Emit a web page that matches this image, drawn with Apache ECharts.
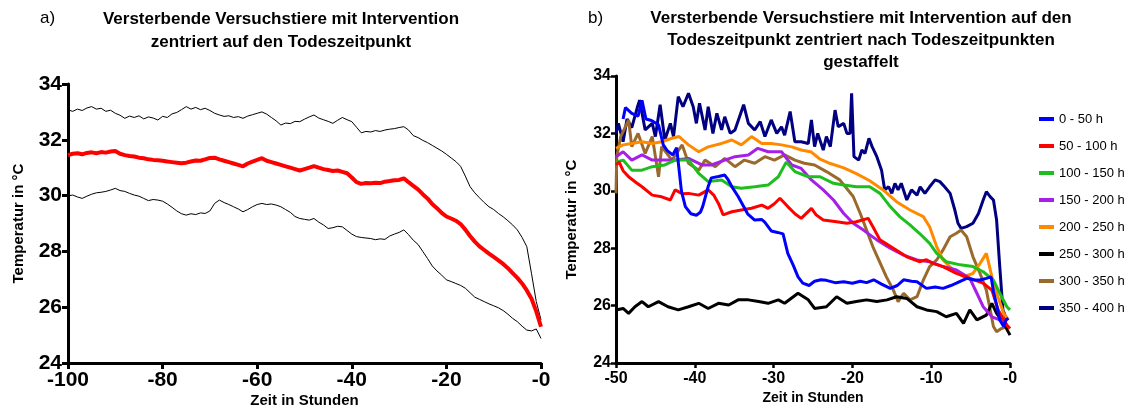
<!DOCTYPE html>
<html><head><meta charset="utf-8">
<script src="https://cdn.jsdelivr.net/npm/echarts@6/dist/echarts.min.js"></script>
<style>html,body{margin:0;padding:0;background:#fff}#c{width:1131px;height:407px}</style>
</head><body><div id="c"></div>
<script>
// ---------- Chart a) ----------
const hoursA = [-100,-99,-98,-97,-96,-95,-94,-93,-92,-91,-90,-89,-88,-87,-86,-85,-84,-83,-82,-81,-80,-79,-78,-77,-76,-75,-74,-73,-72,-71,-70,-69,-68,-67,-66,-65,-64,-63,-62,-61,-60,-59,-58,-57,-56,-55,-54,-53,-52,-51,-50,-49,-48,-47,-46,-45,-44,-43,-42,-41,-40,-39,-38,-37,-36,-35,-34,-33,-32,-31,-30,-29,-28,-27,-26,-25,-24,-23,-22,-21,-20,-19,-18,-17,-16,-15,-14,-13,-12,-11,-10,-9,-8,-7,-6,-5,-4,-3,-2,-1,0];
const upperA = [33.07,33.02,33.10,33.05,33.14,33.19,33.10,33.13,33.02,33.06,32.95,32.88,32.77,32.85,32.80,32.86,32.75,32.82,32.78,32.71,32.84,32.80,32.93,32.98,33.08,33.19,33.10,33.16,33.08,33.13,33.05,32.95,32.89,32.84,32.86,32.80,32.83,32.77,32.85,32.90,32.95,33.00,32.92,32.80,32.68,32.53,32.60,32.58,32.66,32.65,32.74,32.82,32.89,32.78,32.72,32.66,32.59,32.70,32.80,32.72,32.65,32.45,32.25,32.30,32.28,32.33,32.30,32.35,32.38,32.40,32.44,32.47,32.35,32.15,32.08,31.98,31.90,31.80,31.70,31.60,31.48,31.35,31.22,31.05,30.70,30.32,30.10,29.92,29.75,29.60,29.50,29.36,29.24,29.10,28.95,28.77,28.50,28.17,27.20,26.20,25.55];
const meanA = [31.45,31.50,31.52,31.48,31.53,31.55,31.52,31.56,31.54,31.58,31.60,31.50,31.45,31.42,31.40,31.36,31.34,31.30,31.28,31.27,31.25,31.22,31.20,31.18,31.16,31.18,31.22,31.26,31.25,31.30,31.35,31.36,31.30,31.25,31.20,31.15,31.10,31.05,31.15,31.22,31.28,31.34,31.25,31.20,31.15,31.10,31.05,31.00,30.95,30.90,30.95,31.00,31.06,31.00,30.95,30.92,30.88,30.90,30.85,30.80,30.65,30.48,30.42,30.45,30.44,30.46,30.45,30.50,30.52,30.55,30.56,30.62,30.48,30.35,30.22,30.05,29.90,29.70,29.55,29.38,29.25,29.18,29.10,28.98,28.78,28.55,28.35,28.18,28.05,27.92,27.80,27.68,27.55,27.40,27.22,27.05,26.85,26.60,26.30,25.85,25.30];
const lowerA = [29.99,30.02,29.95,29.90,29.98,30.05,30.10,30.12,30.15,30.20,30.26,30.18,30.15,30.08,30.02,29.98,29.90,29.82,29.86,29.84,29.80,29.70,29.58,29.45,29.35,29.30,29.35,29.32,29.38,29.36,29.45,29.72,29.84,29.75,29.68,29.60,29.52,29.42,29.50,29.60,29.68,29.72,29.68,29.70,29.66,29.60,29.50,29.40,29.25,29.18,29.15,29.12,29.18,29.05,28.95,28.82,28.85,28.90,28.88,28.75,28.62,28.53,28.50,28.48,28.46,28.42,28.45,28.43,28.55,28.62,28.68,28.77,28.60,28.40,28.25,28.00,27.75,27.48,27.30,27.15,26.98,26.92,26.85,26.78,26.68,26.52,26.36,26.28,26.20,26.12,26.05,25.98,25.88,25.75,25.60,25.48,25.32,25.18,25.15,25.22,24.88];
const xTicksA = {'-100':'-100','-80':'-80','-60':'-60','-40':'-40','-20':'-20','0':'-0'};
const xTicksB = {'-50':'-50','-40':'-40','-30':'-30','-20':'-20','-10':'-10','0':'-0'};

// ---------- Chart b) : [hour, temperature] ----------
const names = ['0 - 50 h','50 - 100 h','100 - 150 h','150 - 200 h','200 - 250 h','250 - 300 h','300 - 350 h','350 - 400 h'];
const colors = ['#0000ff','#ff0000','#1ebe1e','#a61fe6','#ff8a00','#000000','#9a6a2c','#000080'];
const g0_50 = [[-49.1,32.5],[-48.8,32.9],[-48,32.7],[-47.2,32.6],[-46.7,33.15],[-46.2,32.5],[-45.5,32.45],[-44.6,32.3],[-44,31.6],[-43.5,31.4],[-42.8,31.25],[-42.3,31.5],[-41.7,30.0],[-41.2,29.45],[-40.5,29.2],[-39.8,29.15],[-39.3,29.25],[-39,29.45],[-38.3,30.15],[-37.9,30.45],[-37,30.5],[-36.2,30.55],[-35.8,30.4],[-35.2,30.1],[-34.5,29.8],[-33.8,29.45],[-33.3,29.2],[-32.4,28.98],[-31.5,29.0],[-31.1,28.9],[-30.3,28.6],[-29.5,28.55],[-28.8,28.5],[-28.2,27.82],[-27.5,27.4],[-26.9,27.0],[-26.3,26.78],[-25.5,26.7],[-24.8,26.85],[-24,26.9],[-23.3,26.88],[-22.2,26.8],[-21.1,26.83],[-20,26.78],[-19,26.85],[-18.2,26.8],[-17.3,26.9],[-16.3,26.75],[-15.2,26.6],[-14.3,26.7],[-13.5,26.9],[-12.5,26.85],[-11.8,26.83],[-10.6,26.6],[-9.5,26.65],[-8.5,26.6],[-7.5,26.7],[-6.8,26.78],[-5.5,26.95],[-4.6,26.9],[-3.8,26.89],[-3,26.95],[-2.4,27.0],[-2.1,26.5],[-1.6,25.9],[-1.3,25.5],[-0.8,25.27],[-0.5,25.5],[-0.2,25.56]];
const g50_100 = [[-50,30.9],[-49.6,31.0],[-49.1,30.7],[-48.4,30.49],[-47.5,30.3],[-46.7,30.14],[-45.4,29.85],[-44.2,29.79],[-43.1,29.68],[-42.5,30.03],[-41.6,29.9],[-40.8,29.91],[-39.5,29.85],[-38.3,30.03],[-37.6,29.85],[-37,29.56],[-36.4,29.16],[-35.3,29.27],[-34.1,29.33],[-32.8,29.39],[-31.5,29.5],[-30.7,29.39],[-29.9,29.55],[-29.2,29.74],[-28.2,29.45],[-27.3,29.2],[-26.5,29.04],[-25.2,29.39],[-24.6,29.16],[-23.7,28.98],[-22,28.92],[-20.7,28.87],[-19.5,28.92],[-18,29.04],[-17.4,28.75],[-16.5,28.29],[-14.8,28.0],[-13.1,27.7],[-11.5,27.53],[-10.6,27.6],[-9.8,27.47],[-8.5,27.36],[-6.8,27.12],[-5.1,26.95],[-3.4,26.78],[-2.3,26.54],[-1.5,25.85],[-0.4,25.32],[0,25.2]];
const g100_150 = [[-50,31.0],[-49.1,31.07],[-48,30.72],[-46.7,30.72],[-45.4,30.84],[-43.8,30.9],[-42.5,31.07],[-40.8,31.07],[-39.5,30.61],[-38.3,30.32],[-36.6,30.38],[-35.3,30.14],[-34.1,30.09],[-32.4,30.14],[-30.7,30.2],[-29.4,30.49],[-28.4,31.0],[-27.3,30.67],[-25.6,30.49],[-24.1,30.49],[-22.4,30.26],[-21.1,30.2],[-19.5,30.14],[-17.8,30.14],[-16.5,29.91],[-15.2,29.45],[-14,29.1],[-12.7,28.81],[-11.5,28.52],[-10.2,28.17],[-9.3,27.82],[-8.1,27.53],[-6.3,27.42],[-4.7,27.36],[-3.4,27.18],[-2.1,26.89],[-1.3,26.43],[-0.4,25.96],[0,25.85]];
const g150_200 = [[-50,31.19],[-49.1,31.36],[-48,31.07],[-46.7,31.25],[-45.4,31.07],[-44.2,31.07],[-42.5,31.07],[-40.8,31.13],[-39.1,30.9],[-37.9,30.9],[-36.2,31.07],[-34.9,31.19],[-33.2,31.25],[-32,31.48],[-30.7,31.36],[-29,31.36],[-27.7,30.9],[-26.5,30.78],[-25.2,30.38],[-23.7,30.03],[-22.4,29.68],[-21.1,29.21],[-19.9,28.87],[-18.6,28.63],[-16.9,28.29],[-15.2,28.0],[-13.5,27.76],[-11.8,27.59],[-10.2,27.53],[-8.5,27.36],[-6.8,27.24],[-5.1,26.95],[-4.2,26.43],[-3.4,25.96],[-2.3,25.61],[-1.3,25.5],[-0.4,25.32]];
const g200_250 = [[-50,31.48],[-49.1,31.6],[-48,31.65],[-46.7,31.71],[-45.4,31.65],[-44.2,31.71],[-42.9,31.83],[-42,31.89],[-40.8,31.6],[-39.5,31.36],[-38.3,31.53],[-36.6,31.65],[-35.3,31.77],[-34.1,31.6],[-32.8,31.89],[-31.5,31.65],[-30.3,31.65],[-29,31.6],[-27.7,31.53],[-26.5,31.42],[-25.2,31.35],[-24.1,31.1],[-22.8,30.95],[-21.1,30.8],[-19.5,30.6],[-17.8,30.35],[-16.1,30.03],[-14.4,29.62],[-12.7,29.33],[-11,29.1],[-10.2,28.75],[-9.3,28.05],[-8.5,27.59],[-7.2,27.24],[-5.9,27.01],[-4.7,27.12],[-3.8,27.47],[-3,27.82],[-2.3,27.01],[-1.7,26.43],[-0.8,25.73],[-0.2,25.5]];
const g250_300 = [[-50,25.85],[-49.1,25.9],[-48.4,25.73],[-47.6,25.96],[-46.7,26.14],[-45.9,25.96],[-44.6,26.14],[-43.4,25.96],[-42.1,25.85],[-40.8,25.96],[-39.5,26.08],[-38.3,25.9],[-37,26.08],[-35.7,26.02],[-34.5,26.2],[-33.2,26.2],[-31.9,26.14],[-30.7,26.08],[-29.4,26.2],[-28.6,26.08],[-26.9,26.43],[-25.6,26.2],[-24.8,25.9],[-23.3,25.96],[-22,26.31],[-20.7,26.08],[-19.5,26.14],[-18.2,26.2],[-16.9,26.14],[-15.6,26.2],[-14.4,26.31],[-13.1,26.25],[-11.8,25.96],[-10.6,25.85],[-9.3,25.79],[-8.1,25.61],[-6.8,25.73],[-5.9,25.38],[-5.1,25.85],[-4.2,25.5],[-3,25.67],[-2.3,26.08],[-1.7,25.73],[-0.8,25.38],[0,24.97]];
const g300_350 = [[-50,29.91],[-49.9,31.19],[-49.4,31.89],[-48.4,32.47],[-48,31.54],[-47.2,32.0],[-46.3,31.3],[-45.4,31.89],[-44.6,30.49],[-44.2,31.54],[-42.9,31.07],[-41.6,31.6],[-40.8,30.96],[-39.5,30.72],[-38.7,31.07],[-37.4,30.84],[-36.2,31.13],[-34.9,30.84],[-33.7,31.07],[-32.4,30.96],[-31.1,31.19],[-29.9,31.07],[-28.6,31.25],[-27.3,31.07],[-26.1,30.96],[-24.8,30.9],[-23.3,30.67],[-21.6,30.38],[-19.9,29.8],[-19,29.21],[-18.2,28.63],[-17.4,28.05],[-16.5,27.5],[-15.7,27.01],[-14.8,26.54],[-14.2,26.14],[-13.5,26.43],[-12.7,26.2],[-11.8,26.31],[-11,26.89],[-10.2,27.36],[-9.3,27.59],[-8.5,27.94],[-7.6,28.4],[-6.8,28.52],[-6.2,28.63],[-5.5,28.4],[-4.7,27.7],[-3.8,27.12],[-3,26.54],[-2.1,25.27],[-1.7,25.09],[-1.1,25.2],[-0.4,25.27]];
const g350_400 = [[-50,32.0],[-49.7,32.35],[-49.1,31.71],[-48.6,32.5],[-48,32.2],[-47.3,32.9],[-47,33.16],[-46.3,32.12],[-45.4,32.35],[-45,31.89],[-44.4,33.0],[-43.8,31.77],[-43.1,32.35],[-42.7,31.89],[-42.1,33.28],[-41.5,32.93],[-40.8,33.4],[-40.2,32.93],[-39.8,32.35],[-39.4,33.05],[-38.7,32.12],[-38.3,32.93],[-37.7,32.0],[-37.2,32.7],[-36.6,32.12],[-36.2,32.58],[-35.5,32.0],[-34.9,32.12],[-33.8,33.0],[-33.2,32.35],[-32.4,32.12],[-31.7,32.41],[-31.1,31.89],[-30.3,32.47],[-29.6,32.0],[-29,32.23],[-28.6,31.94],[-27.9,32.76],[-27.3,31.71],[-26.5,31.71],[-25.6,31.65],[-25.2,32.47],[-24.8,31.54],[-24.4,32.0],[-23.7,31.42],[-23.3,31.89],[-22.8,31.54],[-22.2,32.81],[-21.8,32.23],[-21.1,32.35],[-20.7,32.0],[-20.3,32.0],[-20.1,33.4],[-19.8,31.19],[-19.2,31.07],[-18.8,31.42],[-18.4,31.3],[-17.9,31.83],[-17.5,31.54],[-16.9,31.19],[-16.3,30.72],[-15.9,30.03],[-15.4,30.14],[-15,29.91],[-14.6,30.26],[-14.2,30.03],[-13.8,30.26],[-13.1,29.68],[-12.5,30.03],[-11.8,29.85],[-11.4,30.14],[-10.8,29.91],[-10.2,30.14],[-9.5,30.38],[-8.9,30.32],[-8.3,30.14],[-7.6,29.91],[-7,29.33],[-6.6,28.87],[-6.2,28.69],[-5.5,28.75],[-4.7,28.87],[-4,29.21],[-3.4,29.68],[-3,29.97],[-2.5,29.79],[-2.1,29.68],[-1.7,28.98],[-1.3,27.36],[-0.9,25.85],[-0.4,25.5]];
const groupsB = [g0_50,g50_100,g100_150,g150_200,g200_250,g250_300,g300_350,g350_400];

const FONT = 'Liberation Sans, Arial, sans-serif';
const chart = echarts.init(document.getElementById('c'), null, {renderer:'canvas'});

function axisCommon(big){
  return {
    axisLine:{show:true, onZero:false, lineStyle:{color:'#000', width:3}},
    axisTick:{show:true, length: big?6:5, lineStyle:{color:'#000', width: big?3:2.5}},
    splitLine:{show:false},
    axisLabel:{color:'#000', fontWeight:'bold', fontFamily:FONT, fontSize: big?21:16},
    nameTextStyle:{color:'#000', fontWeight:'bold', fontFamily:FONT, fontSize: big?15:14},
    nameMoveOverlap:false
  };
}

const pair = (xs, ys) => xs.map((x,i)=>[x, ys[i]]);

const series = [
  {type:'line', name:'upper', xAxisIndex:0, yAxisIndex:0, data:pair(hoursA, upperA), symbol:'none', lineStyle:{color:'#000', width:1}, silent:true},
  {type:'line', name:'lower', xAxisIndex:0, yAxisIndex:0, data:pair(hoursA, lowerA), symbol:'none', lineStyle:{color:'#000', width:1}, silent:true},
  {type:'line', name:'mean', xAxisIndex:0, yAxisIndex:0, data:pair(hoursA, meanA), symbol:'none', lineStyle:{color:'#ff0000', width:4}, silent:true}
];
groupsB.forEach((g,i)=>{
  series.push({type:'line', name:names[i], xAxisIndex:1, yAxisIndex:1, data:g, symbol:'none',
    color:colors[i], lineStyle:{color:colors[i], width:3}, z: 10 - i, silent:true});
});

const option = {
  animation:false,
  backgroundColor:'#fff',
  textStyle:{fontFamily:FONT},
  grid:[
    {left:68, right:590, top:84, bottom:44, containLabel:false, outerBoundsMode:'none'},
    {left:616, right:121, top:76, bottom:44, containLabel:false, outerBoundsMode:'none'}
  ],
  xAxis:[
    Object.assign(axisCommon(true), {gridIndex:0, type:'value', min:-100, max:0, interval:20,
      name:'Zeit in Stunden', nameLocation:'middle', nameGap:30}),
    Object.assign(axisCommon(false), {gridIndex:1, type:'value', min:-50, max:0, interval:10,
      name:'Zeit in Stunden', nameLocation:'middle', nameGap:28})
  ],
  yAxis:[
    Object.assign(axisCommon(true), {gridIndex:0, type:'value', min:24, max:34, interval:2,
      name:'Temperatur in °C', nameLocation:'middle', nameGap:42}),
    Object.assign(axisCommon(false), {gridIndex:1, type:'value', min:24, max:34, interval:2,
      name:'Temperatur in °C', nameLocation:'middle', nameGap:37})
  ],
  legend:{
    data:names, orient:'vertical', left:1034, top:107, icon:'rect', itemWidth:15, itemHeight:4,
    itemGap:13, textStyle:{fontSize:13, color:'#000', fontFamily:FONT, lineHeight:14}, selectedMode:false
  },
  graphic:[
    {type:'text', left:40, top:10, style:{text:'a)', font:'17px '+FONT, fill:'#000'}},
    {type:'text', x:281, y:8, style:{text:'Versterbende Versuchstiere mit Intervention\nzentriert auf den Todeszeitpunkt', font:'bold 17px '+FONT, fill:'#000', textAlign:'center', lineHeight:23}},
    {type:'text', left:588, top:10, style:{text:'b)', font:'17px '+FONT, fill:'#000'}},
    {type:'text', x:861, y:7, style:{text:'Versterbende Versuchstiere mit Intervention auf den\nTodeszeitpunkt zentriert nach Todeszeitpunkten\ngestaffelt', font:'bold 17px '+FONT, fill:'#000', textAlign:'center', lineHeight:22}}
  ],
  series: series
};
option.xAxis[0].axisLabel.formatter = v => xTicksA[String(v)] || String(v);
option.xAxis[1].axisLabel.formatter = v => xTicksB[String(v)] || String(v);
option.xAxis[0].axisLabel.margin = 7;
option.xAxis[1].axisLabel.margin = 8;
option.yAxis[0].axisLabel.margin = 6;
option.yAxis[1].axisLabel.margin = 5;
option.yAxis[1].nameTextStyle.fontSize = 15;
chart.setOption(option);
</script></body></html>
